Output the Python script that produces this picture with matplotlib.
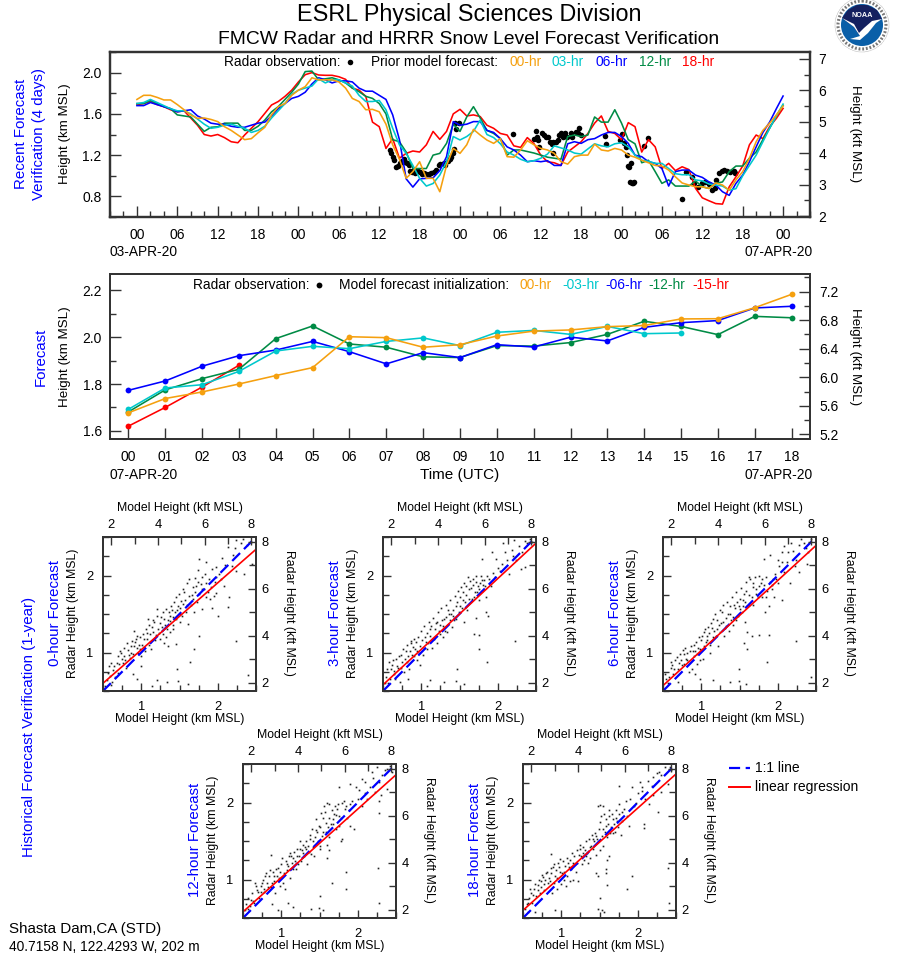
"""FMCW radar / HRRR snow level verification page: two time series plus five scatter panels."""
import numpy as np
import matplotlib
matplotlib.use("Agg")
import matplotlib.pyplot as plt
from matplotlib.patches import Circle, Polygon
from matplotlib.ticker import MultipleLocator, FixedLocator, NullFormatter, FormatStrFormatter

plt.rcParams["font.family"] = ["Liberation Sans", "DejaVu Sans"]

W, H = 898, 956
KFT = 3.28084
ORANGE = "#F5A00F"
CYAN = "#00C8CC"
BLUE = "#0000FF"
GREEN = "#008B45"
RED = "#FF0000"
AXC = "#333333"

# recent forecasts, one value per hour, 03-APR 00 to 07-APR 00
recent_00 = [1.74, 1.78, 1.78, 1.76, 1.735, 1.735, 1.69, 1.64, 1.59, 1.556, 1.56, 1.546,
             1.525, 1.476, 1.44, 1.395, 1.35, 1.36, 1.417, 1.47, 1.59, 1.67, 1.70, 1.78,
             1.83, 1.864, 1.95, 1.93, 1.93, 1.93, 1.91, 1.85, 1.75, 1.72, 1.64, 1.644,
             1.62, 1.50, 1.30, 1.16, .975, 1.04, 1.136, .975, .975, .845, 1.10, 1.265,
             1.217, 1.30, 1.45, 1.395, 1.346, 1.314, 1.36, 1.185, 1.18, 1.25, 1.34, 1.30,
             1.265, 1.25, 1.217, 1.136, 1.113, 1.185, 1.2, 1.2, 1.307, 1.25, 1.24, 1.265,
             1.25, 1.2, 1.18, 1.15, 1.126, 1.10, 1.094, 1.055, .99, .93, .91, .893,
             .893, .877, .93, .91, .86, .96, 1.04, 1.17, 1.33, 1.44, 1.51, 1.59, 1.676]
recent_03 = [1.70, 1.71, 1.74, 1.71, 1.68, 1.65, 1.63, 1.63, 1.60, 1.55, 1.50, 1.46,
             1.47, 1.49, 1.50, 1.48, 1.46, 1.42, 1.44, 1.48, 1.56, 1.63, 1.70, 1.79,
             1.83, 1.85, 1.87, 1.94, 1.90, 1.93, 1.93, 1.90, 1.87, 1.78, 1.72, 1.72,
             1.73, 1.64, 1.46, 1.30, 1.217, 1.10, .975, .90, .925, 1.007, 1.136, 1.38,
             1.347, 1.38, 1.43, 1.54, 1.40, 1.37, 1.31, 1.23, 1.20, 1.16, 1.136, 1.146,
             1.17, 1.21, 1.29, 1.27, 1.25, 1.22, 1.21, 1.26, 1.31, 1.29, 1.28, 1.31,
             1.32, 1.28, 1.20, 1.15, 1.14, 1.12, 1.12, 1.07, 1.02, 1.01, 1.01, .96,
             .95, .92, .91, .90, .86, .875, 1.0, 1.10, 1.20, 1.33, 1.46, 1.58, 1.695]
recent_06 = [1.68, 1.68, 1.71, 1.69, 1.67, 1.65, 1.62, 1.63, 1.64, 1.58, 1.55, 1.51,
             1.50, 1.50, 1.48, 1.47, 1.47, 1.49, 1.51, 1.52, 1.58, 1.65, 1.70, 1.75,
             1.77, 1.81, 1.89, 1.95, 1.93, 1.90, 1.92, 1.92, 1.91, 1.85, 1.82, 1.82,
             1.78, 1.74, 1.59, 1.35, .97, .89, .97, .975, .98, 1.05, 1.185, 1.525,
             1.49, 1.50, 1.525, 1.525, 1.44, 1.42, 1.36, 1.28, 1.25, 1.20, 1.136, 1.146,
             1.136, 1.146, 1.10, 1.10, 1.31, 1.33, 1.314, 1.35, 1.36, 1.395, 1.42, 1.42,
             1.38, 1.314, 1.20, 1.185, 1.136, 1.12, 1.07, .90, 1.04, 1.055, 1.055, 1.006,
             .984, .94, .91, .845, .81, .926, 1.006, 1.136, 1.28, 1.42, 1.52, 1.65, 1.773]
recent_12 = [1.70, 1.70, 1.73, 1.70, 1.67, 1.65, 1.59, 1.58, 1.57, 1.50, 1.43, 1.47,
             1.475, 1.51, 1.51, 1.51, 1.44, 1.44, 1.48, 1.54, 1.62, 1.67, 1.74, 1.81,
             1.89, 2.01, 2.015, 1.93, 1.94, 1.95, 1.93, 1.90, 1.85, 1.815, 1.77, 1.75,
             1.70, 1.60, 1.35, 1.33, 1.23, 1.07, 1.07, 1.07, 1.20, 1.217, 1.314, 1.50,
             1.43, 1.57, 1.67, 1.56, 1.44, 1.41, 1.36, 1.20, 1.25, 1.25, 1.235, 1.22,
             1.20, 1.18, 1.17, 1.16, 1.38, 1.395, 1.38, 1.395, 1.57, 1.52, 1.52, 1.64,
             1.51, 1.35, 1.31, 1.126, 1.15, 1.04, .926, .96, .90, .90, .90, .95,
             .893, .877, .926, .94, 1.04, 1.094, 1.094, 1.17, 1.23, 1.35, 1.46, 1.58, 1.683]
recent_18 = [1.69, 1.70, 1.72, 1.69, 1.67, 1.64, 1.62, 1.63, 1.56, 1.49, 1.40, 1.385,
             1.40, 1.37, 1.33, 1.32, 1.395, 1.46, 1.525, 1.605, 1.686, 1.72, 1.77, 1.83,
             1.91, 1.98, 2.0, 1.977, 1.974, 1.974, 1.96, 1.935, 1.85, 1.83, 1.77, 1.52,
             1.476, 1.265, 1.36, 1.17, 1.217, 1.24, 1.23, 1.30, 1.43, 1.353, 1.43, 1.60,
             1.644, 1.58, 1.59, 1.574, 1.49, 1.46, 1.41, 1.395, 1.29, 1.275, 1.37, 1.31,
             1.20, 1.136, 1.126, 1.10, 1.23, 1.28, 1.33, 1.41, 1.51, 1.58, 1.43, 1.41,
             1.35, 1.515, 1.476, 1.23, 1.35, 1.28, 1.07, 1.12, 1.05, 1.087, 1.06, .877,
             .786, .757, .73, .725, .893, .99, 1.094, 1.30, 1.395, 1.36, 1.476, 1.556, 1.653]

# radar observations (hour since start, km)
obs_hours = [37.53, 37.73, 37.98, 38.13, 38.52, 38.77, 39.02, 39.37, 39.61, 39.86, 40.11, 40.36, 40.5,
             40.85, 41.1, 41.35, 41.7, 42.09, 42.34, 42.58, 42.93, 43.33, 43.67, 44.07, 44.47, 44.81,
             45.06, 45.55, 45.8, 46.15, 46.45, 46.64, 46.94, 47.04, 47.44, 47.29, 47.78,
             55.8, 59.25, 59.4, 59.0, 59.65, 59.8, 60.15, 60.5, 60.8, 61.14, 61.39, 61.63, 61.88, 62.28,
             62.63, 62.78, 62.97, 63.27, 63.62, 63.87, 64.46, 64.61, 65.25, 65.6, 65.75, 66.0, 61.78,
             69.47, 69.7, 72.05, 71.7, 72.3, 72.6, 72.8, 73.04, 73.4, 72.9, 73.3, 73.7, 73.9, 73.5,
             75.37, 75.86, 80.97, 81.6, 82.46, 82.8, 83.3, 83.95, 84.44, 84.94, 85.44, 85.83, 86.08,
             86.42, 86.92, 87.27, 87.65, 88.06, 88.65, 88.9]
obs_km = [1.25, 1.224, 1.185, 1.152, 1.088, 1.094, 1.127, 1.146, 1.159, 1.136, 1.12, 1.104, 1.049,
          1.039, 1.055, 1.03, 1.049, 1.039, 1.017, 1.03, 1.017, 1.017, 1.023, 1.039, 1.055, 1.104,
          1.114, 1.12, 1.104, 1.146, 1.159, 1.185, 1.217, 1.256, 1.45, 1.515, 1.508,
          1.405, 1.437, 1.379, 1.353, 1.346, 1.282, 1.411, 1.395, 1.372, 1.379, 1.33, 1.307, 1.33, 1.33,
          1.346, 1.395, 1.417, 1.379, 1.417, 1.372, 1.417, 1.379, 1.427, 1.411, 1.46, 1.395, 1.223,
          1.385, 1.307, 1.405, 1.346, 1.32, 1.275, 1.20, 1.087, 1.12, 1.094, .942, .926, .942, .93,
          1.288, 1.362, .77, 1.04, .984, .93, .887, .926, .942, .919, .861, .877, .958,
          1.023, 1.049, 1.06, 1.049, 1.04, 1.05, 1.03]

# latest forecasts by initialization, 07-APR 00 to 18 UTC
latest_00 = [1.677, 1.738, 1.766, 1.80, 1.836, 1.87, 2.002, 1.998, 1.957, 1.968, 2.005, 2.026,
             2.031, 2.045, 2.05, 2.078, 2.079, 2.126, 2.183]
latest_03 = [1.692, 1.783, 1.797, 1.854, 1.941, 1.961, 1.951, 1.982, 1.997, 1.964, 2.021, 2.029,
             2.012, 2.046, 2.015, 2.018]
latest_06 = [1.773, 1.813, 1.876, 1.921, 1.945, 1.982, 1.938, 1.886, 1.934, 1.913, 1.968, 1.958,
             2.0, 1.984, 2.042, 2.062, 2.071, 2.125, 2.132]
latest_12 = [1.681, 1.775, 1.823, 1.863, 1.994, 2.048, 1.971, 1.957, 1.916, 1.913, 1.964, 1.962,
             1.977, 2.012, 2.068, 2.046, 2.011, 2.089, 2.083]
latest_15 = [1.62, 1.70, 1.787, 1.88]

# one-year scatter, (model km, radar km)
scatter_00 = [(.55, .64), (.59, .70), (.63, .77), (.65, .83), (.72, 1.02), (.76, .87), (.83, 1.03), (.87, 1.09),
              (.89, .98), (.91, 1.28), (.96, .99), (1.0, .95), (1.02, 1.24), (1.04, 1.07), (1.09, 1.44), (1.11, 1.24),
              (1.13, 1.05), (1.17, 1.39), (1.2, 1.57), (1.22, 1.31), (1.26, 1.46), (1.28, 1.24), (1.3, 1.44), (1.33, 1.2),
              (1.35, 1.09), (1.37, 1.41), (1.39, 1.61), (1.41, 1.46), (1.43, 1.65), (1.46, 1.11), (1.48, 1.61), (1.5, 1.39),
              (1.52, 1.67), (1.56, 1.78), (1.58, 1.52), (1.61, 1.37), (1.63, 1.74), (1.67, 1.85), (1.72, 1.87), (1.76, 1.76),
              (1.78, 1.89), (1.82, 1.83), (1.85, 1.72), (1.87, 1.78), (1.91, 1.85), (1.95, 1.74), (1.98, 1.98), (2.04, 1.96),
              (2.24, 1.15), (2.4, .71), (2.0, 1.47), (2.13, 1.59), (1.64, .88), (1.47, .78), (1.69, 1.05), (1.75, 1.21),
              (1.48, .63), (1.21, .64), (1.34, .62), (.95, .65), (1.14, .56), (1.61, .59), (1.0, .82), (.89, .72),
              (1.76, 2.21), (1.85, 2.17), (1.62, 1.95), (1.74, 2.07), (1.93, 2.08), (1.98, 2.11), (2.06, 2.23), (2.13, 2.37),
              (2.24, 2.46), (2.33, 2.47), (2.45, 2.15), (2.34, 2.02), (2.24, 2.06), (2.08, 1.87), (2.15, 1.72), (1.98, 1.77),
              (1.92, 1.58), (1.8, 1.56), (1.69, 1.52), (.58, .82), (.62, .62), (.68, .87), (.7, .74), (.74, 1.0), (.78, .96),
              (.8, .8), (.85, .93), (.88, 1.15), (.93, 1.17), (.94, 1.06), (.98, 1.2), (1.01, 1.1), (1.06, 1.31), (1.08, 1.17),
              (1.1, 1.36), (1.12, 1.13), (1.15, 1.27), (1.16, 1.42), (1.19, 1.23), (1.21, 1.48), (1.24, 1.38), (1.25, 1.17),
              (1.29, 1.53), (1.31, 1.36), (1.32, 1.57), (1.34, 1.3), (1.36, 1.52), (1.38, 1.27), (1.4, 1.55), (1.42, 1.36),
              (1.45, 1.72), (1.47, 1.55), (1.49, 1.76), (1.51, 1.5), (1.54, 1.63), (1.55, 1.82), (1.6, 1.9), (1.65, 1.62),
              (1.68, 1.7), (1.7, 1.97), (1.73, 1.66), (1.8, 1.98), (1.84, 1.9), (1.88, 1.95), (2.2, 2.27), (2.3, 2.42),
              (.53, .56), (.56, .74), (.6, .58), (.61, .86), (.66, .68), (.69, .95), (.71, .85), (.75, .92), (.77, 1.06),
              (.79, .9), (.81, 1.12), (.84, .97), (.86, 1.0), (.9, 1.08), (.92, 1.14), (.95, 1.22), (.97, 1.1), (.99, 1.05),
              (1.03, 1.17), (1.05, 1.02), (1.07, 1.25), (1.1, 1.1), (1.14, 1.33), (1.18, 1.16), (1.23, 1.25), (1.27, 1.33),
              (1.3, 1.12), (1.35, 1.42), (1.38, 1.47), (1.41, 1.3), (1.44, 1.52), (1.46, 1.44), (1.5, 1.58), (1.53, 1.48),
              (1.57, 1.68), (1.6, 1.62), (1.66, 1.75), (1.7, 1.78), (1.74, 1.92), (1.79, 1.82), (1.83, 2.02), (1.9, 1.7),
              (1.96, 1.92), (2.02, 2.02), (2.1, 2.14), (2.18, 2.12), (2.22, 2.36), (2.38, 2.4), (2.44, 2.44)]
scatter_03 = [(2.22, 1.15), (1.86, .88), (1.75, 1.05), (1.69, 1.24), (1.75, 1.23), (1.47, .78), (1.46, .63), (1.12, .64),
              (1.3, .62), (1.07, .56), (1.56, .59), (.83, .65), (1.8, 2.22), (1.92, 2.3), (1.98, 2.22), (2.1, 2.31),
              (2.07, 2.42), (2.21, 2.46), (2.36, 2.11), (2.3, 2.09), (1.61, 1.98), (1.56, 1.39), (1.87, 1.47), (1.85, 1.52),
              (1.72, 1.45), (.54, .68), (.57, .6), (.6, .78), (.62, .84), (.64, .72), (.67, .92), (.7, .8), (.73, .97),
              (.77, .75), (.8, 1.02), (.82, .88), (.86, 1.12), (.88, .97), (.9, 1.17), (.92, 1.05), (.94, .9), (.96, 1.2),
              (.98, 1.08), (1.0, 1.28), (1.02, .97), (1.04, 1.35), (1.06, 1.14), (1.08, 1.04), (1.1, 1.4), (1.12, 1.22),
              (1.14, 1.06), (1.16, 1.45), (1.18, 1.3), (1.2, 1.12), (1.22, 1.52), (1.24, 1.36), (1.26, 1.58), (1.28, 1.2),
              (1.3, 1.44), (1.32, 1.62), (1.34, 1.26), (1.36, 1.5), (1.38, 1.68), (1.4, 1.33), (1.42, 1.55), (1.44, 1.73),
              (1.46, 1.44), (1.48, 1.8), (1.5, 1.6), (1.52, 1.85), (1.54, 1.68), (1.56, 1.9), (1.58, 1.75), (1.6, 1.55),
              (1.62, 1.82), (1.64, 1.93), (1.66, 1.7), (1.68, 1.96), (1.7, 1.78), (1.72, 1.99), (1.74, 1.87), (1.76, 1.68),
              (1.78, 2.0), (1.8, 1.8), (1.82, 1.94), (1.84, 1.72), (1.88, 1.96), (1.91, 1.86), (1.94, 2.03), (2.0, 2.1),
              (2.05, 2.15), (2.12, 2.2), (2.15, 2.02), (2.18, 2.33), (2.24, 2.2), (2.28, 2.38), (2.35, 2.45), (2.42, 2.48),
              (.72, .62), (.66, .66), (.58, .88), (.75, .88), (.84, .78), (.95, 1.02), (1.05, 1.2), (1.11, 1.3), (1.17, 1.18),
              (1.21, 1.4), (1.25, 1.24), (1.29, 1.34), (1.33, 1.46), (1.37, 1.42), (1.41, 1.48), (1.45, 1.6), (1.49, 1.52),
              (1.53, 1.58), (1.57, 1.66), (1.65, 1.84), (1.69, 1.72), (1.73, 1.78), (1.77, 1.9), (1.81, 1.88), (.99, .84),
              (.53, .6), (.55, .78), (.59, .66), (.63, .9), (.65, .76), (.68, .82), (.71, .95), (.74, .8), (.76, 1.05), (.79, .92),
              (.81, 1.1), (.83, .95), (.85, 1.02), (.87, 1.15), (.89, 1.07), (.91, .96), (.93, 1.14), (.97, 1.0), (1.01, 1.16),
              (1.03, 1.06), (1.07, 1.25), (1.09, 1.12), (1.13, 1.34), (1.15, 1.18), (1.19, 1.38), (1.23, 1.28), (1.27, 1.42),
              (1.31, 1.28), (1.35, 1.55), (1.39, 1.5), (1.43, 1.42), (1.47, 1.66), (1.51, 1.72), (1.55, 1.78), (1.59, 1.86),
              (1.63, 1.7), (1.67, 1.88), (1.71, 1.92), (1.75, 1.82), (1.79, 1.94), (1.83, 1.86), (1.86, 2.0), (1.97, 1.98),
              (2.03, 2.06), (2.2, 2.25), (2.32, 2.3), (2.38, 2.42), (2.45, 2.44)]
scatter_06 = [(2.24, 1.15), (1.86, .88), (1.76, 1.23), (1.6, 1.27), (1.66, 1.22), (1.88, 1.23), (1.49, .78), (1.49, .63),
              (1.38, .62), (1.15, .64), (1.59, .59), (.98, .65), (.92, .72), (1.82, 2.22), (1.9, 2.26), (2.0, 2.2), (2.05, 2.3),
              (2.08, 2.38), (2.17, 2.42), (2.3, 2.47), (2.38, 2.15), (2.28, 2.05), (2.16, 1.9), (2.05, 1.68), (1.95, 1.72),
              (1.88, 1.6), (1.83, 1.53), (1.62, 1.98), (1.68, 1.62), (1.57, 1.4), (1.56, 1.12), (2.43, .68), (1.6, 1.05),
              (.54, .66), (.56, .6), (.6, .8), (.63, .72), (.66, .9), (.69, .78), (.72, .98), (.76, 1.03), (.78, .85), (.82, 1.0),
              (.84, .75), (.87, 1.08), (.9, .95), (.93, 1.13), (.95, .85), (.97, 1.2), (.99, 1.05), (1.02, .92), (1.04, 1.26),
              (1.06, 1.13), (1.09, 1.33), (1.11, 1.0), (1.13, 1.38), (1.15, 1.2), (1.18, 1.5), (1.2, 1.3), (1.22, 1.08),
              (1.24, 1.55), (1.26, 1.38), (1.28, 1.62), (1.3, 1.22), (1.32, 1.45), (1.34, 1.66), (1.36, 1.28), (1.38, 1.5),
              (1.4, 1.72), (1.42, 1.36), (1.44, 1.58), (1.46, 1.78), (1.48, 1.48), (1.5, 1.7), (1.52, 1.84), (1.54, 1.6),
              (1.56, 1.76), (1.58, 1.92), (1.62, 1.75), (1.64, 1.95), (1.66, 1.72), (1.7, 1.98), (1.72, 1.82), (1.75, 2.0),
              (1.78, 1.9), (1.8, 1.72), (1.84, 1.98), (1.86, 1.8), (1.9, 1.92), (1.93, 1.82), (1.96, 2.02), (2.0, 1.9),
              (2.02, 2.12), (2.08, 2.05), (2.12, 2.18), (2.2, 2.32), (2.24, 2.2), (2.34, 2.42), (2.4, 2.3), (2.44, 2.48),
              (.7, .62), (.61, .88), (.74, .9), (.8, .92), (.88, .78), (.92, 1.02), (1.0, 1.16), (1.07, 1.22), (1.12, 1.1),
              (1.17, 1.28), (1.21, 1.42), (1.25, 1.26), (1.29, 1.4), (1.33, 1.34), (1.37, 1.6), (1.41, 1.46), (1.45, 1.42),
              (1.49, 1.6), (1.53, 1.52), (1.57, 1.66), (1.6, 1.6), (1.68, 1.85), (1.74, 1.72), (1.82, 1.88), (1.94, 1.96),
              (.53, .72), (.58, .68), (.62, .84), (.65, .78), (.68, .94), (.71, .86), (.75, .84), (.77, .98), (.79, 1.06),
              (.81, .9), (.85, 1.02), (.89, 1.02), (.91, 1.1), (.94, .98), (.96, 1.06), (.98, .9), (1.01, 1.22), (1.03, 1.08),
              (1.05, 1.3), (1.08, 1.16), (1.1, 1.25), (1.14, 1.32), (1.16, 1.44), (1.19, 1.22), (1.23, 1.36), (1.27, 1.52),
              (1.31, 1.32), (1.35, 1.5), (1.39, 1.42), (1.43, 1.62), (1.47, 1.66), (1.51, 1.56), (1.55, 1.68), (1.59, 1.8),
              (1.63, 1.62), (1.67, 1.9), (1.71, 1.76), (1.76, 1.86), (1.79, 1.96), (1.85, 1.72), (1.92, 1.88), (1.98, 1.96),
              (2.06, 2.18), (2.14, 2.3), (2.22, 2.12), (2.28, 2.4), (2.37, 2.36)]
scatter_12 = [(2.26, 1.15), (2.28, .7), (1.84, .88), (1.84, 1.1), (1.66, .96), (1.6, 1.28), (1.5, .78), (1.49, .63),
              (1.39, .62), (1.16, .64), (1.09, .7), (1.55, .6), (.96, .6), (.88, .68), (.87, 1.32), (1.75, 2.2),
              (1.9, 2.24), (1.98, 2.2), (2.05, 2.3), (2.1, 2.27), (2.18, 2.4), (2.25, 2.46), (2.35, 2.42), (2.38, 2.18),
              (2.3, 2.1), (2.28, 2.02), (2.28, 1.87), (1.62, 1.98), (1.8, 1.53), (1.78, 1.5), (1.9, 1.7), (1.95, 1.65),
              (1.62, 1.38), (1.6, 1.45), (.54, .68), (.57, .62), (.6, .74), (.62, .82), (.65, .7), (.68, .86), (.71, .76),
              (.73, .92), (.76, 1.0), (.78, .84), (.81, .95), (.84, 1.05), (.86, .9), (.89, 1.1), (.92, .82), (.94, 1.04),
              (.96, 1.15), (.99, .92), (1.01, 1.28), (1.03, 1.08), (1.05, .88), (1.07, 1.2), (1.1, 1.3), (1.12, 1.02),
              (1.14, 1.22), (1.17, 1.36), (1.19, 1.14), (1.21, 1.3), (1.24, 1.4), (1.26, 1.24), (1.28, 1.45), (1.3, 1.3),
              (1.32, 1.5), (1.34, 1.2), (1.36, 1.36), (1.38, 1.52), (1.4, 1.66), (1.42, 1.42), (1.44, 1.55), (1.46, 1.78),
              (1.48, 1.5), (1.5, 1.68), (1.52, 1.86), (1.54, 1.62), (1.56, 1.95), (1.58, 1.74), (1.6, 2.0), (1.62, 1.8),
              (1.66, 1.9), (1.68, 1.72), (1.7, 1.96), (1.72, 1.84), (1.74, 1.98), (1.76, 1.7), (1.8, 2.0), (1.83, 1.92),
              (1.86, 1.8), (1.9, 1.98), (2.0, 2.05), (2.05, 1.95), (2.1, 2.12), (2.16, 2.2), (2.22, 2.14), (2.32, 2.36),
              (2.42, 2.48), (.66, .95), (.74, .84), (.8, 1.08), (.9, .98), (.98, 1.1), (1.08, 1.12), (1.13, 1.3), (1.18, 1.24),
              (1.22, 1.2), (1.27, 1.38), (1.31, 1.42), (1.35, 1.44), (1.39, 1.33), (1.43, 1.3), (1.47, 1.62), (1.51, 1.44),
              (1.55, 1.8), (1.59, 1.62), (1.63, 1.55), (1.67, 1.78), (1.71, 1.66), (1.75, 1.82), (1.85, 1.95), (1.5, 1.4),
              (.53, .6), (.56, .76), (.59, .66), (.63, .72), (.67, .92), (.7, .84), (.75, .96), (.77, .88), (.79, 1.04),
              (.83, .9), (.85, 1.12), (.88, .95), (.91, 1.05), (.93, 1.14), (.97, 1.02), (1.0, 1.2), (1.02, .96), (1.06, 1.24),
              (1.09, 1.18), (1.11, 1.35), (1.15, 1.14), (1.16, 1.28), (1.2, 1.4), (1.23, 1.3), (1.25, 1.5), (1.29, 1.34),
              (1.33, 1.4), (1.37, 1.58), (1.41, 1.5), (1.45, 1.64), (1.49, 1.7), (1.53, 1.56), (1.57, 1.88), (1.61, 1.68),
              (1.65, 1.72), (1.69, 1.85), (1.73, 1.92), (1.78, 1.8), (1.82, 2.02), (1.88, 1.9), (1.93, 2.02), (2.02, 2.16),
              (2.12, 2.04), (2.2, 2.32), (2.28, 2.26), (2.38, 2.44), (2.45, 2.4)]
scatter_18 = [(2.41, .69), (2.4, 1.15), (1.86, .88), (1.92, 1.04), (1.5, .76), (1.48, .62), (1.53, .6), (1.56, .58),
              (.56, .58), (.66, .58), (.92, .6), (.87, 1.33), (1.59, 1.14), (1.45, 1.08), (1.48, 1.05), (1.58, 1.09),
              (1.6, 1.25), (1.6, .93), (1.62, 1.3), (1.75, 2.22), (1.92, 2.2), (2.03, 2.27), (2.05, 2.15), (2.2, 2.33),
              (2.28, 2.4), (2.42, 2.46), (2.4, 2.24), (2.3, 2.14), (2.2, 2.1), (2.15, 1.98), (2.27, 1.88), (2.08, 1.72),
              (2.08, 1.67), (1.88, 1.7), (1.78, 1.58), (1.5, 1.97), (1.55, 1.96), (.55, .68), (.58, .76), (.6, .82), (.62, .7),
              (.64, .88), (.67, .78), (.7, .93), (.72, .83), (.74, .98), (.76, 1.03), (.78, .86), (.8, 1.08), (.83, .95),
              (.86, 1.15), (.88, .82), (.9, 1.2), (.92, 1.05), (.94, .88), (.96, 1.22), (.98, 1.1), (1.0, .94), (1.02, 1.24),
              (1.04, 1.1), (1.06, .92), (1.08, 1.28), (1.1, 1.16), (1.12, .98), (1.14, 1.35), (1.16, 1.0), (1.18, 1.2), (1.2, 1.38),
              (1.22, .98), (1.24, 1.45), (1.26, 1.3), (1.28, 1.42), (1.3, 1.25), (1.32, 1.5), (1.34, 1.34), (1.36, 1.52),
              (1.38, 1.28), (1.4, 1.58), (1.42, 1.4), (1.44, 1.6), (1.46, 1.32), (1.48, 1.95), (1.5, 1.75), (1.52, 1.82),
              (1.54, 1.65), (1.56, 1.85), (1.58, 1.7), (1.6, 1.55), (1.62, 1.9), (1.64, 1.6), (1.66, 1.85), (1.68, 1.78),
              (1.7, 1.62), (1.72, 1.9), (1.74, 1.68), (1.76, 1.98), (1.8, 1.88), (1.84, 2.02), (1.9, 2.05), (1.95, 1.95),
              (2.0, 2.12), (2.1, 2.05), (2.14, 2.28), (2.25, 2.38), (2.35, 2.46), (.84, 1.02), (.95, 1.02), (1.03, 1.0),
              (1.11, 1.25), (1.15, 1.22), (1.23, 1.32), (1.27, 1.2), (1.31, 1.38), (1.35, 1.22), (1.39, 1.44), (1.43, 1.5),
              (1.47, 1.52), (1.51, 1.38), (1.55, 1.44), (1.59, 1.78), (1.65, 1.68), (1.69, 1.72), (1.73, 1.76), (1.79, 1.76),
              (.53, .62), (.57, .7), (.59, .88), (.63, .8), (.66, .94), (.69, .86), (.71, 1.0), (.73, .9), (.75, 1.06), (.77, .94),
              (.79, 1.0), (.82, 1.1), (.85, .98), (.87, 1.08), (.89, 1.16), (.91, .96), (.93, 1.12), (.97, 1.16), (.99, 1.26),
              (1.01, 1.08), (1.05, 1.18), (1.07, 1.05), (1.09, 1.22), (1.13, 1.14), (1.17, 1.3), (1.19, 1.1), (1.21, 1.22),
              (1.25, 1.4), (1.29, 1.35), (1.33, 1.3), (1.37, 1.42), (1.41, 1.52), (1.45, 1.56), (1.49, 1.65), (1.53, 1.56),
              (1.57, 1.62), (1.61, 1.72), (1.63, 1.82), (1.67, 1.6), (1.71, 1.8), (1.75, 1.85), (1.82, 1.92), (1.86, 1.82),
              (1.98, 2.0), (2.06, 2.2), (2.18, 2.22), (2.3, 2.36), (2.44, 2.42)]

panel_names = ["0-hour Forecast", "3-hour Forecast", "6-hour Forecast", "12-hour Forecast", "18-hour Forecast"]
panel_points = [scatter_00, scatter_03, scatter_06, scatter_12, scatter_18]
reg_start = [.60, .58, .57, .58, .60]  # regression value at model 0.5 km
reg_slope = [.87, .92, .91, .89, .885]

fig = plt.figure(figsize=(W / 100, H / 100), dpi=100)


def axes_px(l, t, r, b):
    return fig.add_axes([l / W, 1 - b / H, (r - l) / W, (b - t) / H])


def frame(ax, lw=1.3):
    for s in ax.spines.values():
        s.set_linewidth(lw)
        s.set_color(AXC)
    ax.tick_params(which="both", direction="in", color=AXC, width=1, labelsize=10)
    ax.tick_params(which="major", length=8)
    ax.tick_params(which="minor", length=4)


# overlay in pixel coordinates for the free text and the logo
ov = fig.add_axes([0, 0, 1, 1], zorder=10)
ov.set_xlim(0, W)
ov.set_ylim(H, 0)
ov.axis("off")


def txt(x, y, s, size=9.9, color="black", ha="left", rot=0):
    ov.text(x, y, s, fontsize=size, color=color, ha=ha, va="center", rotation=rot, rotation_mode="anchor")


txt(469, 14, "ESRL Physical Sciences Division", 16.8, ha="center")
txt(469, 39, "FMCW Radar and HRRR Snow Level Forecast Verification", 13.9, ha="center")

# top panel
ax1 = axes_px(110, 52, 810, 217)
frame(ax1, 1.6)
for y_vals, c in [(recent_18, RED), (recent_12, GREEN), (recent_06, BLUE), (recent_03, CYAN), (recent_00, ORANGE)]:
    ax1.plot(np.arange(len(y_vals)), y_vals, color=c, lw=1.15, zorder=3)
ax1.plot(obs_hours, obs_km, "o", color="black", ms=4.0, mew=0, zorder=2)
ax1.set_xlim(-4, 100)
ax1.set_ylim(0.6, 2.2)
ax1.set_xticks(np.arange(0, 97, 6))
ax1.set_xticklabels(["00", "06", "12", "18"] * 4 + ["00"])
ax1.xaxis.set_minor_locator(MultipleLocator(2))
ax1.set_yticks([0.8, 1.2, 1.6, 2.0])
ax1.yaxis.set_major_formatter(FormatStrFormatter("%.1f"))
ax1.yaxis.set_minor_locator(MultipleLocator(0.2))
ax1.tick_params(axis="x", pad=8)
ax1.tick_params(axis="y", pad=6)
r1 = ax1.twinx()
frame(r1, 1.6)
r1.set_ylim(0.6 * KFT, 2.2 * KFT)
r1.set_yticks([2, 3, 4, 5, 6, 7])
r1.yaxis.set_minor_locator(MultipleLocator(0.5))
r1.tick_params(axis="y", pad=6)

txt(224, 62, "Radar observation:")
ov.plot([350], [62], "o", color="black", ms=4.0, mew=0)
txt(371, 62, "Prior model forecast:")
for x, s, c in [(509, "00-hr", ORANGE), (552, "03-hr", CYAN), (595, "06-hr", BLUE), (639, "12-hr", GREEN), (682, "18-hr", RED)]:
    txt(x, 62, s, color=c)
txt(21, 134, "Recent Forecast", 10.8, BLUE, "center", 90)
txt(39, 134, "Verification (4 days)", 10.8, BLUE, "center", 90)
txt(65, 134, "Height (km MSL)", 9.6, ha="center", rot=90)
txt(855, 134, "Height (kft MSL)", 9.6, ha="center", rot=270)
txt(110, 252, "03-APR-20")
txt(813, 252, "07-APR-20", ha="right")

# second panel
ax2 = axes_px(110, 274, 810, 439)
frame(ax2, 1.3)
for y_vals, c in [(latest_15, RED), (latest_12, GREEN), (latest_06, BLUE), (latest_03, CYAN), (latest_00, ORANGE)]:
    ax2.plot(np.arange(len(y_vals)), y_vals, "-o", color=c, lw=1.15, ms=4.2, mew=0)
ax2.set_xlim(-0.5, 18.5)
ax2.set_ylim(1.565, 2.27)
ax2.set_xticks(np.arange(19))
ax2.set_xticklabels([f"{h:02d}" for h in range(19)])
ax2.set_yticks([1.6, 1.8, 2.0, 2.2])
ax2.yaxis.set_major_formatter(FormatStrFormatter("%.1f"))
ax2.yaxis.set_minor_locator(MultipleLocator(0.1))
ax2.tick_params(axis="x", pad=8)
ax2.tick_params(axis="y", pad=6)
r2 = ax2.twinx()
frame(r2, 1.3)
r2.set_ylim(1.565 * KFT, 2.27 * KFT)
r2.set_yticks([5.2, 5.6, 6.0, 6.4, 6.8, 7.2])
r2.yaxis.set_major_formatter(FormatStrFormatter("%.1f"))
r2.yaxis.set_minor_locator(MultipleLocator(0.2))
r2.tick_params(axis="y", pad=7)

txt(193, 285, "Radar observation:")
ov.plot([319], [285], "o", color="black", ms=4.2, mew=0)
txt(339, 285, "Model forecast initialization:")
for x, s, c in [(519, "00-hr", ORANGE), (562, "-03-hr", CYAN), (605, "-06-hr", BLUE), (648, "-12-hr", GREEN), (692, "-15-hr", RED)]:
    txt(x, 285, s, color=c)
txt(41, 357, "Forecast", 10.8, BLUE, "center", 90)
txt(65, 357, "Height (km MSL)", 9.6, ha="center", rot=90)
txt(855, 357, "Height (kft MSL)", 9.6, ha="center", rot=270)
txt(110, 475, "07-APR-20")
txt(813, 475, "07-APR-20", ha="right")
txt(460, 475, "Time (UTC)", 11, ha="center")

# scatter panels
panel_px = [(103, 537), (383, 537), (663, 537), (243, 764), (523, 764)]
for (l, t), name, pts, r0, m in zip(panel_px, panel_names, panel_points, reg_start, reg_slope):
    ax = axes_px(l, t, l + 153, t + 154)
    frame(ax, 1.3)
    ax.tick_params(which="major", length=6)
    ax.tick_params(which="minor", length=4)
    ax.tick_params(labelsize=9.3, pad=7)
    xs, ys = np.array(pts).T
    ax.plot(xs, ys, "s", color="#222222", ms=1.2, mew=0, zorder=2)
    ends = np.array([0.5, 2.5])
    ax.plot(ends, ends, color=BLUE, lw=1.6, dashes=(5, 2.5), zorder=3)
    ax.plot(ends, r0 + m * (ends - 0.5), color=RED, lw=1.2, zorder=4)
    ax.set_xlim(0.5, 2.5)
    ax.set_ylim(0.5, 2.5)
    ax.set_xticks([1, 2])
    ax.set_yticks([1, 2])
    ax.xaxis.set_minor_locator(MultipleLocator(0.25))
    ax.yaxis.set_minor_locator(MultipleLocator(0.25))
    top = ax.twiny()
    right = ax.twinx()
    frame(top, 1.3)
    frame(right, 1.3)
    top.set_xlim(0.5 * KFT, 2.5 * KFT)
    right.set_ylim(0.5 * KFT, 2.5 * KFT)
    for twin, axis in [(top, top.xaxis), (right, right.yaxis)]:
        axis.set_major_locator(FixedLocator([2, 4, 6, 8]))
        axis.set_minor_locator(FixedLocator([3, 5, 7]))
        twin.tick_params(which="major", length=6)
        twin.tick_params(which="minor", length=5)
        twin.tick_params(labelsize=9.3, pad=4)
    right.yaxis.set_minor_formatter(NullFormatter())
    cx = l + 77
    cy = t + 76
    txt(cx, t - 29, "Model Height (kft MSL)", 8.8, ha="center")
    txt(cx, t + 182, "Model Height (km MSL)", 8.8, ha="center")
    txt(l - 30, cy, "Radar Height (km MSL)", 8.8, ha="center", rot=90)
    txt(l + 186, cy, "Radar Height (kft MSL)", 8.8, ha="center", rot=270)
    txt(l - 48, cy, name, 10.8, BLUE, "center", 90)

txt(29, 727, "Historical Forecast Verification (1-year)", 10.9, BLUE, "center", 90)

ov.plot([729, 750], [768, 768], color=BLUE, lw=1.6, dashes=(5, 2.5))
ov.plot([729, 750], [787, 787], color=RED, lw=1.4)
txt(755, 768, "1:1 line", 10)
txt(755, 787, "linear regression", 10)

txt(9, 929, "Shasta Dam,CA (STD)", 10.9)
txt(9, 947, "40.7158 N, 122.4293 W, 202 m", 9.9)

# NOAA emblem
lx, ly = 862, 25
ov.add_patch(Circle((lx, ly), 27, fc="white", ec="#888888", lw=0.4, ls=(0, (1, 1))))
ov.add_patch(Circle((lx, ly), 24, fc="white", ec="#777777", lw=2.2, ls=(0, (0.6, 0.6))))
ov.add_patch(Circle((lx, ly), 21, fc="#0A5FA8", ec="none"))
ov.add_patch(Polygon([(lx - 20, ly - 7), (lx - 14, ly - 15), (lx - 5, ly - 20), (lx + 5, ly - 20), (lx + 15, ly - 15), (lx + 20, ly - 6),
                      (lx + 14, ly - 3), (lx + 6, ly + 4), (lx - 2, ly + 11), (lx - 8, ly + 2)], fc="#14205F", ec="none"))
ov.add_patch(Polygon([(lx - 20, ly - 7), (lx - 8, ly + 2), (lx - 2, ly + 11), (lx - 12, ly + 14), (lx - 2, ly + 15), (lx + 6, ly + 8),
                      (lx + 14, ly - 2), (lx + 20, ly - 6), (lx + 10, ly - 4), (lx + 2, ly + 3), (lx - 3, ly + 8), (lx - 8, ly - 1)],
                     fc="white", ec="none"))
ov.text(lx, ly - 10, "NOAA", color="white", fontsize=5.2, fontweight="bold", ha="center", va="center")

fig.savefig("out.png", dpi=100)
